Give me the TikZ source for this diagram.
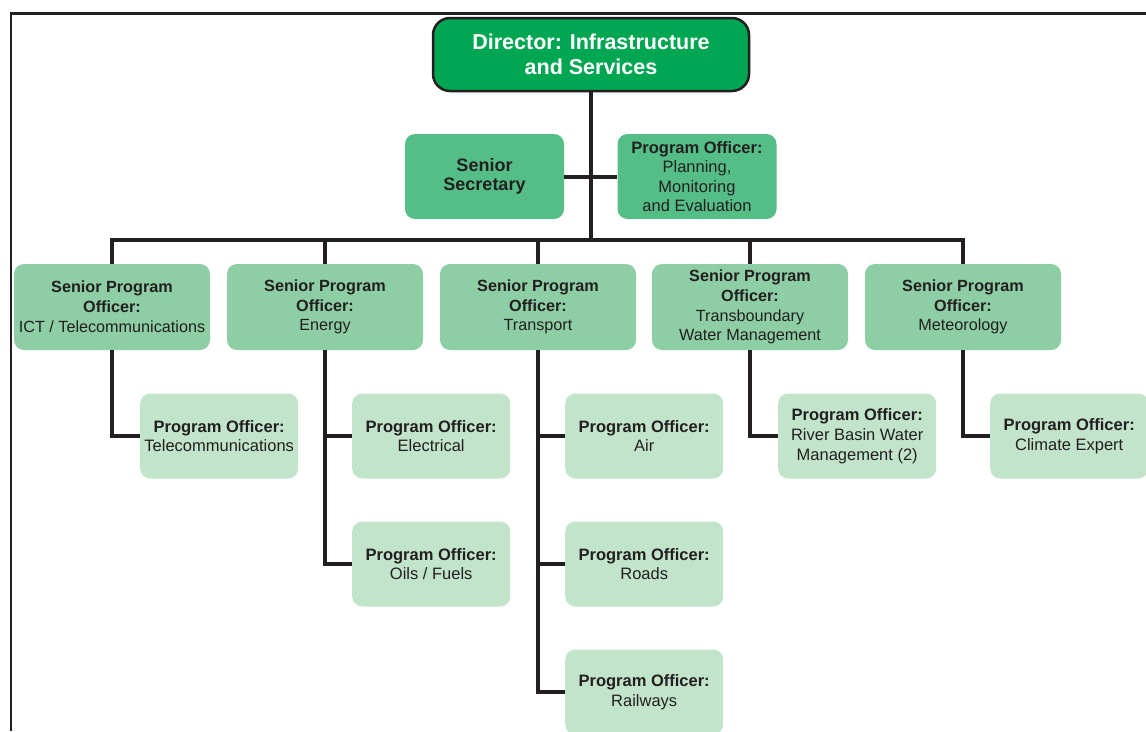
\documentclass[tikz,border=0pt]{standalone}
\usepackage{fontspec}
\setmainfont{Liberation Sans}
\usetikzlibrary{positioning,calc}
\definecolor{dirFill}{HTML}{00A651}
\definecolor{secFill}{HTML}{55BE87}
\definecolor{spoFill}{HTML}{8DCEA5}
\definecolor{poFill}{HTML}{C1E4CB}
\definecolor{inkDark}{HTML}{231F20}
\tikzset{
  box/.style    ={rounded corners=10pt, align=center, inner sep=2pt, text=inkDark},
  dirbox/.style ={box, fill=dirFill, draw=inkDark, line width=2.5pt, rounded corners=17pt,
                  minimum width=316pt, minimum height=73pt, text=white,
                  font=\fontsize{21.5}{25}\selectfont\bfseries},
  secbox/.style ={box, fill=secFill, minimum width=159pt, minimum height=85pt,
                  font=\fontsize{16.5}{19.6}\selectfont},
  spobox/.style ={box, fill=spoFill, minimum width=196pt, minimum height=86pt,
                  font=\fontsize{16.2}{19.8}\selectfont},
  pobox/.style  ={box, fill=poFill, minimum width=158pt, minimum height=85pt,
                  font=\fontsize{16.5}{19.8}\selectfont},
  link/.style   ={draw=inkDark, line width=4pt},
}

\begin{document}
\begin{tikzpicture}[x=1pt, y=-1pt]
  \useasboundingbox (0,0) rectangle (1146,731);
  % page frame
  \draw[draw=inkDark, line width=3pt] (9.5,13) -- (1146,13);
  \draw[draw=inkDark, line width=2pt] (10.5,13) -- (10.5,731);

  % director and staff
  \node[dirbox] (dir) at (591,54.5) {Director: Infrastructure\\and Services};
  \node[secbox] (sec) at (484.5,176.5)
        {\fontsize{18}{21}\selectfont\bfseries Senior\\\fontsize{18}{21}\selectfont\bfseries Secretary};
  \node[secbox] (pme) at (697,176.5)
        {\textbf{Program Officer:}\\Planning,\\Monitoring\\and Evaluation};
  \coordinate (bus) at (591,240);

  % senior program officers
  \node[spobox] (ict) at (112,307)   {\textbf{Senior Program}\\\textbf{Officer:}\\ICT / Telecommunications};
  \node[spobox] (nrg) at (325,307)   {\textbf{Senior Program}\\\textbf{Officer:}\\Energy};
  \node[spobox] (trn) at (538,307)   {\textbf{Senior Program}\\\textbf{Officer:}\\Transport};
  \node[spobox] (wat) at (750,307)   {\textbf{Senior Program}\\\textbf{Officer:}\\Transboundary\\Water Management};
  \node[spobox] (met) at (963,307)   {\textbf{Senior Program}\\\textbf{Officer:}\\Meteorology};

  % program officers
  \node[pobox, anchor=west] (tel)  at (140,436) {\textbf{Program Officer:}\\Telecommunications};
  \node[pobox, anchor=west] (ele)  at (352,436) {\textbf{Program Officer:}\\Electrical};
  \node[pobox, anchor=west] (oil)  at (352,564) {\textbf{Program Officer:}\\Oils / Fuels};
  \node[pobox, anchor=west] (air)  at (565,436) {\textbf{Program Officer:}\\Air};
  \node[pobox, anchor=west] (rds)  at (565,564) {\textbf{Program Officer:}\\Roads};
  \node[pobox, anchor=west] (rail) at (565,692) {\textbf{Program Officer:}\\Railways};
  \node[pobox, anchor=west] (riv)  at (778,436) {\textbf{Program Officer:}\\River Basin Water\\Management (2)};
  \node[pobox, anchor=west] (clim) at (990,436) {\textbf{Program Officer:}\\Climate Expert};

  % connectors
  \draw[link] (dir.south) -- (dir.south |- bus);
  \draw[link] (sec.east) -- (pme.west);
  \draw[link] (ict.north) |- (bus) -| (met.north);
  \foreach \n in {nrg,trn,wat} \draw[link] (\n.north) -- (\n.north |- bus);
  \foreach \a/\b in {ict/tel, nrg/oil, trn/rail, wat/riv, met/clim} \draw[link] (\a.south) |- (\b.west);
  \foreach \a/\b in {nrg/ele, trn/air, trn/rds} \draw[link] (\b.west) -- (\b.west -| \a.south);
\end{tikzpicture}
\end{document}
